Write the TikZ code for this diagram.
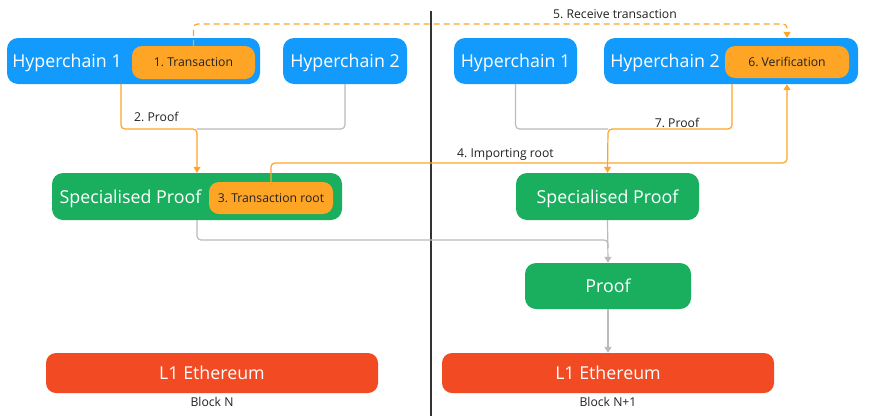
\documentclass[tikz,border=0pt]{standalone}
\usepackage{fontspec}
\setmainfont{Open Sans}
\usetikzlibrary{arrows.meta}
\definecolor{hcblue}{HTML}{129BFD}
\definecolor{spgreen}{HTML}{19AF5F}
\definecolor{txorange}{HTML}{FFA526}
\definecolor{ethred}{HTML}{F24B23}
\definecolor{linegray}{HTML}{BBBBBB}
\definecolor{labelgray}{HTML}{222222}
\tikzset{
  box/.style={rounded corners=11pt, inner sep=0pt, draw=none},
  bluebox/.style={box, fill=hcblue},
  greenbox/.style={box, fill=spgreen},
  redbox/.style={box, fill=ethred, rounded corners=10pt},
  innerbox/.style={rounded corners=10pt, fill=txorange, inner sep=0pt, font=\fontsize{12.2}{14}\selectfont, text=labelgray, text height=8.8pt, text depth=0pt},
  bigtext/.style={text=white, font=\fontsize{17.8}{20}\selectfont, inner sep=0pt, text height=12.6pt, text depth=0pt},
  lbl/.style={text=labelgray, font=\fontsize{12.2}{14}\selectfont, inner sep=0pt, text height=8.8pt, text depth=0pt},
  oline/.style={draw=txorange, line width=1.2pt, rounded corners=4pt},
  gline/.style={draw=linegray, line width=1.2pt, rounded corners=4pt},
  tip/.style={-{Triangle[width=7pt,length=6pt]}},
}
\begin{document}
\begin{tikzpicture}[x=1pt,y=-1pt]
\path[use as bounding box, fill=white] (0,0) rectangle (869,418);

% divider
\draw[line width=1.3pt, draw=black!80] (431,11) -- (431,416);

% left side
\node[bluebox, minimum width=253pt, minimum height=46pt] (hc1L) at (133.5,61) {};
\node[bigtext] (hc1Ltext) at (67,61.5) {Hyperchain 1};
\node[innerbox, minimum width=123pt, minimum height=33pt] (tx) at (193.5,62.5) {1.\ Transaction};
\node[bluebox, minimum width=124pt, minimum height=46pt] (hc2L) at (345,61) {};
\node[bigtext] (hc2Ltext) at (345,61.5) {Hyperchain 2};

\node[greenbox, minimum width=290pt, minimum height=47pt] (spL) at (197,196.5) {};
\node[bigtext] (spLtext) at (130.5,197.5) {Specialised Proof};
\node[innerbox, minimum width=124pt, minimum height=32pt] (trL) at (271,198) {3.\ Transaction root};

\node[redbox, minimum width=332pt, minimum height=40pt] (l1L) at (212,373) {};
\node[bigtext] (l1Ltext) at (212,373.5) {L1 Ethereum};
\node[lbl] (blockN) at (212,402) {Block N};

% right side
\node[bluebox, minimum width=123pt, minimum height=46pt] (hc1R) at (515.5,61) {};
\node[bigtext] (hc1Rtext) at (515.5,61.5) {Hyperchain 1};
\node[bluebox, minimum width=254pt, minimum height=46pt] (hc2R) at (731,61) {};
\node[bigtext] (hc2Rtext) at (665,61.5) {Hyperchain 2};
\node[innerbox, minimum width=124pt, minimum height=32pt] (ver) at (787,62) {6.\ Verification};

\node[greenbox, minimum width=183pt, minimum height=47pt] (spR) at (607.5,196.5) {};
\node[bigtext] (spRtext) at (607.5,197.5) {Specialised Proof};
\node[greenbox, minimum width=166pt, minimum height=46pt] (proof) at (608,286) {};
\node[bigtext] (prooftext) at (608,286.5) {Proof};

\node[redbox, minimum width=332pt, minimum height=40pt] (l1R) at (608,373) {};
\node[bigtext] (l1Rtext) at (608,373.5) {L1 Ethereum};
\node[lbl] (blockN1) at (608,402) {Block N+1};

% coordinates
\coordinate (jL) at (197,129);
\coordinate (jR) at (608,129);
\coordinate (jP) at (608,240);

% 5. receive transaction (dashed)
\draw[oline, dashed, dash pattern=on 6pt off 4pt, tip] (tx.north) |- (787,24) -- (ver.center |- hc2R.north);
\node[lbl] (lbl5) at (615,14) {5.\ Receive transaction};

% 2. proof (left)
\draw[gline] (hc2L.south) |- (jL);
\draw[oline, tip] (hc1L.south -| 121,0) |- (jL) -- (spL.north);
\node[lbl, anchor=west] (lbl2) at (134,117.5) {2.\ Proof};

% 3 -> 6 importing root
\draw[oline, tip] (trL.north) |- (787,163) -- (ver.center |- hc2R.south);
\node[lbl, anchor=west] (lbl4) at (457,153) {4.\ Importing root};

% left specialised -> right proof
\draw[gline] (spL.south) |- (jP) -- ++(0,8);
\draw[gline, tip] (spR.south) -- (proof.north);

% right top
\draw[gline] (hc1R.south) |- (jR);
\draw[oline, tip] (hc2R.south -| 732,0) |- (jR) -- (spR.north);
\node[lbl] (lbl7) at (677,123) {7.\ Proof};

% proof -> L1
\draw[gline, tip] (proof.south) -- (l1R.north);
\end{tikzpicture}
\end{document}
